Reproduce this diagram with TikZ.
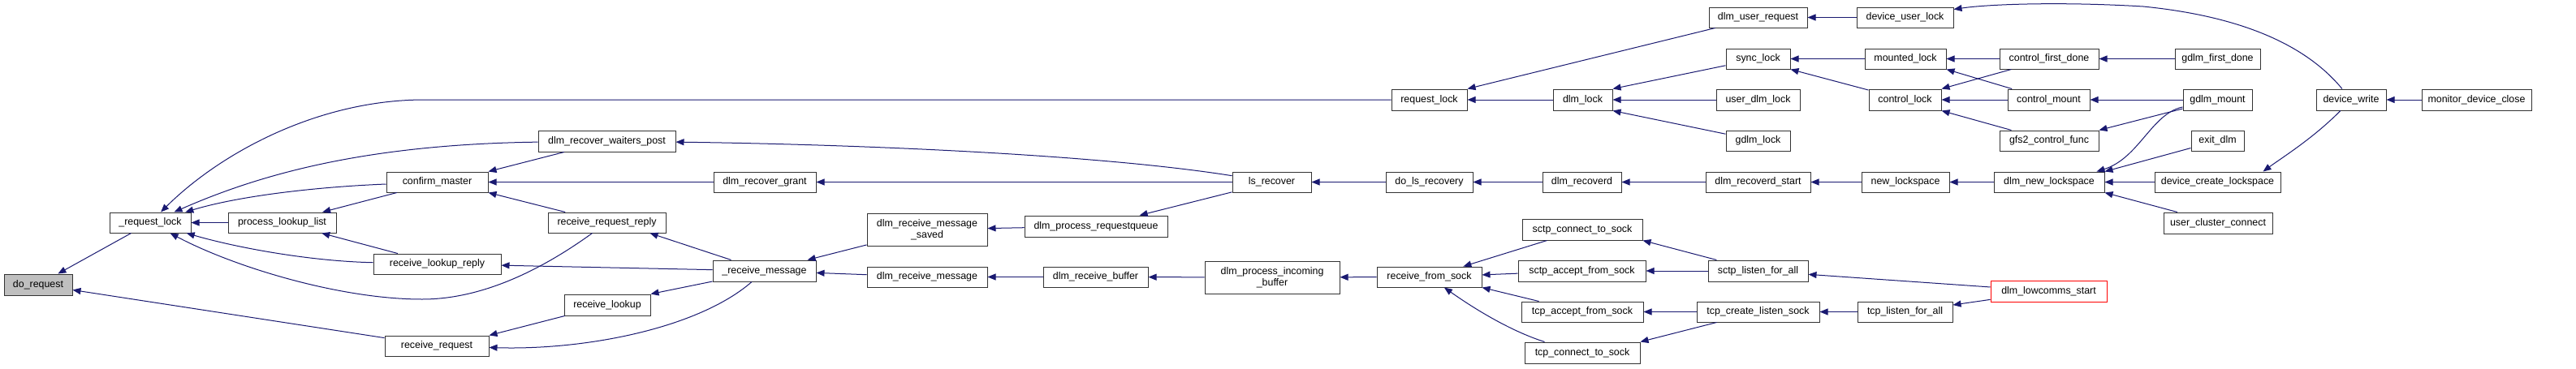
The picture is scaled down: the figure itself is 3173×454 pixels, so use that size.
\documentclass[tikz,border=0pt]{standalone}
\usepackage{fontspec}
\setmainfont{Liberation Sans}
\usetikzlibrary{arrows.meta,calc}
\definecolor{edgeblue}{HTML}{191970}
\definecolor{nodegray}{HTML}{BFBFBF}
\definecolor{bordergray}{HTML}{333333}
\tikzset{
  fnbox/.style={draw=bordergray, line width=0.75pt, fill=white, inner sep=0pt, align=center,
    font=\fontsize{9.3}{10.8}\selectfont, text=black},
  rootbox/.style={fnbox, fill=nodegray},
  redbox/.style={fnbox, draw=red},
  edge/.style={draw=edgeblue, line width=0.75pt, -{Triangle[length=7.5pt,width=6pt]}}
}
\newcommand\fn[7][fnbox]{\node[#1, minimum width=#5*0.75pt, minimum height=#6*0.75pt] (#2) at (#3,#4) {#7};}
\begin{document}
\begin{tikzpicture}[x=0.75pt,y=-0.75pt]
\useasboundingbox (0,0) rectangle (3173,454);
% nodes
\fn[rootbox]{dr}{47}{351}{84}{26}{do\_request}
\fn{rl}{185}{274.5}{100}{25}{\_request\_lock}
\fn{pll}{347.5}{274.5}{133}{25}{process\_lookup\_list}
\fn{cm}{538.5}{224.5}{125}{25}{confirm\_master}
\fn{rlr}{538.5}{325.5}{157}{25}{receive\_lookup\_reply}
\fn{rq}{538}{426.5}{128}{25}{receive\_request}
\fn{rwp}{747.5}{174}{169}{26}{dlm\_recover\_waiters\_post}
\fn{drg}{942}{224.5}{126}{25}{dlm\_recover\_grant}
\fn{rrr}{747.5}{274.5}{145}{25}{receive\_request\_reply}
\fn{rm}{941.5}{334}{127}{26}{\_receive\_message}
\fn{rlk}{748}{376}{106}{26}{receive\_lookup}
\fn{drms}{1142}{283}{148}{40}{dlm\_receive\_message\\\_saved}
\fn{dpr}{1350}{279}{176}{26}{dlm\_process\_requestqueue}
\fn{lsr}{1566.5}{224.5}{97}{25}{ls\_recover}
\fn{drm}{1142}{341.5}{148}{25}{dlm\_receive\_message}
\fn{drb}{1349.5}{341.5}{129}{25}{dlm\_receive\_buffer}
\fn{dpib}{1567}{342}{166}{40}{dlm\_process\_incoming\\\_buffer}
\fn{reql}{1760.5}{123}{93}{26}{request\_lock}
\fn{dl}{1949.5}{123}{73}{26}{dlm\_lock}
\fn{dlr}{1760.5}{224.5}{107}{25}{do\_ls\_recovery}
\fn{drd}{1948.5}{224.5}{97}{25}{dlm\_recoverd}
\fn{rfs}{1760.5}{341.5}{129}{25}{receive\_from\_sock}
\fn{scs}{1949}{283}{148}{26}{sctp\_connect\_to\_sock}
\fn{sas}{1948.5}{334}{157}{26}{sctp\_accept\_from\_sock}
\fn{tas}{1949}{384.5}{150}{25}{tcp\_accept\_from\_sock}
\fn{tcs}{1949}{435}{142}{26}{tcp\_connect\_to\_sock}
\fn{dur}{2165.5}{21.5}{121}{25}{dlm\_user\_request}
\fn{dul}{2346.5}{21.5}{119}{25}{device\_user\_lock}
\fn{sl}{2165.5}{72.5}{79}{25}{sync\_lock}
\fn{ml}{2347}{72.5}{100}{25}{mounted\_lock}
\fn{cfd}{2524}{72.5}{122}{25}{control\_first\_done}
\fn{udl}{2165.5}{123}{103}{26}{user\_dlm\_lock}
\fn{ctl}{2346.5}{123}{89}{26}{control\_lock}
\fn{cmt}{2523.5}{123}{101}{26}{control\_mount}
\fn{gl}{2165.5}{173.5}{79}{25}{gdlm\_lock}
\fn{gcf}{2524}{173.5}{122}{25}{gfs2\_control\_func}
\fn{drs}{2165.5}{224.5}{129}{25}{dlm\_recoverd\_start}
\fn{nl}{2347}{224.5}{108}{25}{new\_lockspace}
\fn{dnl}{2524}{224.5}{136}{25}{dlm\_new\_lockspace}
\fn{slfa}{2165.5}{334}{123}{26}{sctp\_listen\_for\_all}
\fn[redbox]{dls}{2523.5}{359}{143}{26}{dlm\_lowcomms\_start}
\fn{tcls}{2165.5}{384.5}{151}{25}{tcp\_create\_listen\_sock}
\fn{tlfa}{2346.5}{384.5}{117}{25}{tcp\_listen\_for\_all}
\fn{gfd}{2731.5}{72.5}{105}{25}{gdlm\_first\_done}
\fn{gm}{2731.5}{123}{85}{26}{gdlm\_mount}
\fn{ed}{2731.5}{173.5}{65}{25}{exit\_dlm}
\fn{dcl}{2731.5}{224.5}{155}{25}{device\_create\_lockspace}
\fn{ucc}{2732}{275}{134}{26}{user\_cluster\_connect}
\fn{dw}{2896}{123}{86}{26}{device\_write}
\fn{mdc}{3050.5}{123}{135}{26}{monitor\_device\_close}
% edges (caller -> callee)
\draw[edge] (rl) -- (dr);
\draw[edge] (rq) -- (dr);
\draw[edge] (reql) -- (523,123) .. controls (390,123) and (270,190) .. (rl);
\draw[edge] (rwp) .. controls (450,178) and (320,215) .. (rl);
\draw[edge] (cm) .. controls (400,230) and (300,240) .. (rl);
\draw[edge] (pll) -- (rl);
\draw[edge] (rlr) .. controls (380,322) and (290,305) .. (rl);
\draw[edge] (rrr) .. controls (650,345) and (580,369) .. (520,369) .. controls (420,369) and (290,330) .. (rl);
\draw[edge] (cm) -- (pll);
\draw[edge] (rlr) -- (pll);
\draw[edge] (rwp) -- (cm.north east);
\draw[edge] (drg) -- (cm);
\draw[edge] (rrr) -- (cm.south east);
\draw[edge] (rm) -- (rlr);
\draw[edge] (rm) -- ($(rrr.south east)+(-20,0)$);
\draw[edge] (rm) -- (rlk.north east);
\draw[edge] (rlk) -- (rq.north east);
\draw[edge] (rm) .. controls (860,405) and (720,432) .. (rq);
\draw[edge] (lsr) .. controls (1350,190) and (1050,178) .. (rwp);
\draw[edge] (lsr) -- (drg);
\draw[edge] (lsr) -- (dpr);
\draw[edge] (dpr) -- (drms);
\draw[edge] (drms) -- (rm);
\draw[edge] (drm) -- (rm);
\draw[edge] (drb) -- (drm);
\draw[edge] (dpib) -- (drb);
\draw[edge] (rfs) -- (dpib);
\draw[edge] (dlr) -- (lsr);
\draw[edge] (drd) -- (dlr);
\draw[edge] (drs) -- (drd);
\draw[edge] (nl) -- (drs);
\draw[edge] (dnl) -- (nl);
\draw[edge] (dl) -- (reql);
\draw[edge] (dur) -- (reql.north east);
\draw[edge] (sl) -- (dl.north east);
\draw[edge] (udl) -- (dl);
\draw[edge] (gl) -- (dl.south east);
\draw[edge] (dul) -- (dur);
\draw[edge] (ml) -- (sl);
\draw[edge] (ctl) -- (sl.south east);
\draw[edge] (cfd) -- (ml);
\draw[edge] (cmt) -- (ml.south east);
\draw[edge] (cfd) -- (ctl.north east);
\draw[edge] (cmt) -- (ctl);
\draw[edge] (gcf) -- (ctl.south east);
\draw[edge] (gfd) -- (cfd);
\draw[edge] (gm) -- (cmt);
\draw[edge] (gm) -- (gcf.north east);
\draw[edge] (gm) .. controls (2650,140) and (2635,195) .. ($(dnl.north east)+(-10,0)$);
\draw[edge] (ed) -- (dnl.north east);
\draw[edge] (dcl) -- (dnl);
\draw[edge] (ucc) -- (dnl.south east);
\draw[edge] (dw) .. controls (2840,55) and (2760,20) .. (2640,8) .. controls (2540,2) and (2450,5) .. ($(dul.north east)+(0,3)$);
\draw[edge] (dw) .. controls (2850,170) and (2810,195) .. ($(dcl.north east)+(-22,0)$);
\draw[edge] (mdc) -- (dw);
\draw[edge] (scs) -- (rfs);
\draw[edge] (sas) -- (rfs);
\draw[edge] (tas) -- (rfs.south east);
\draw[edge] ($(tcs.north west)+(25,0)$) .. controls (1860,408) and (1815,380) .. (rfs);
\draw[edge] (slfa) -- (scs.south east);
\draw[edge] (slfa) -- (sas);
\draw[edge] (tcls) -- (tas);
\draw[edge] (tcls) -- (tcs.north east);
\draw[edge] (dls) -- (slfa);
\draw[edge] (dls) -- (tlfa);
\draw[edge] (tlfa) -- (tcls);
\end{tikzpicture}
\end{document}
